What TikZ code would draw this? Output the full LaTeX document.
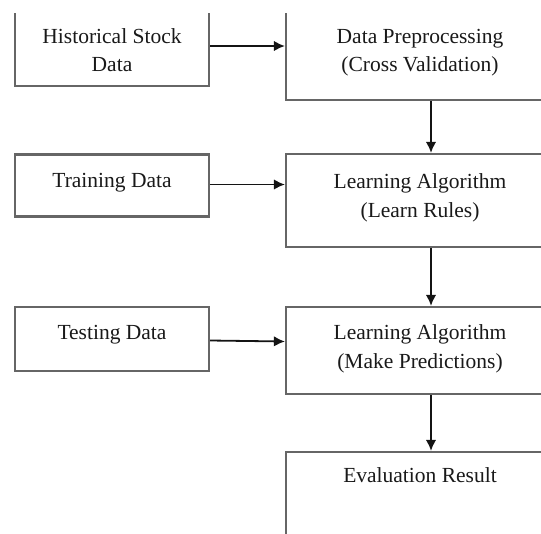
\documentclass[tikz,border=0pt]{standalone}
\usepackage{fontspec}
\setmainfont{Liberation Serif}
\usetikzlibrary{arrows.meta}
\begin{document}
\begin{tikzpicture}[x=1pt,y=-1pt,
  box/.style={draw=black!60,line width=2.2pt,inner sep=0pt,anchor=center},
  lbl/.style={inner sep=0pt,anchor=base,text=black!90,font=\fontsize{21.5}{28}\selectfont},
  flow/.style={draw=black!92,line width=1.8pt,-{Latex[length=11pt,width=10.5pt]}}]
\useasboundingbox (0,0) rectangle (541,533);
\coordinate (spine) at (431,0);
% boxes, cut off at the top, right and bottom edges
\begin{scope}
\clip (0,13) rectangle (541,533);
\node[box,minimum width=194pt,minimum height=80pt] (hist) at (112,46) {};
\node[box,minimum width=266pt,minimum height=108pt] (prep) at (419,46) {};
\node[box,minimum width=194pt,minimum height=62pt] (train) at (112,185.5) {};
\node[box,minimum width=266pt,minimum height=93pt] (learn) at (419,200.5) {};
\node[box,minimum width=194pt,minimum height=64.4pt] (test) at (112,339) {};
\node[box,minimum width=266pt,minimum height=87pt] (predict) at (419,350.5) {};
\node[box,minimum width=266pt,minimum height=108pt] (eval) at (419,506) {};
\end{scope}
% texts
\node[lbl] (histA) at (112,43) {Historical Stock};
\node[lbl] (histB) at (112,71) {Data};
\node[lbl] (prepA) at (420,43) {Data Preprocessing};
\node[lbl] (prepB) at (420,71) {(Cross Validation)};
\node[lbl] (trainA) at (112,187) {Training Data};
\node[lbl] (learnA) at (420,188) {Learning Algorithm};
\node[lbl] (learnB) at (420,217) {(Learn Rules)};
\node[lbl] (testA) at (112,339) {Testing Data};
\node[lbl] (predictA) at (420,339) {Learning Algorithm};
\node[lbl] (predictB) at (420,368) {(Make Predictions)};
\node[lbl] (evalA) at (420,482) {Evaluation Result};
% connectors
\draw[flow] (hist.east) -- (hist.east -| prep.west);
\draw[flow] ([yshift=1pt]train.east) -- ([yshift=1pt]train.east -| learn.west);
\draw[flow] ([yshift=-1.5pt]test.east) -- ([yshift=-2.5pt]test.east -| predict.west);
\draw[flow] (prep.south -| spine) -- (learn.north -| spine);
\draw[flow] (learn.south -| spine) -- (predict.north -| spine);
\draw[flow] (predict.south -| spine) -- (eval.north -| spine);
\end{tikzpicture}
\end{document}
